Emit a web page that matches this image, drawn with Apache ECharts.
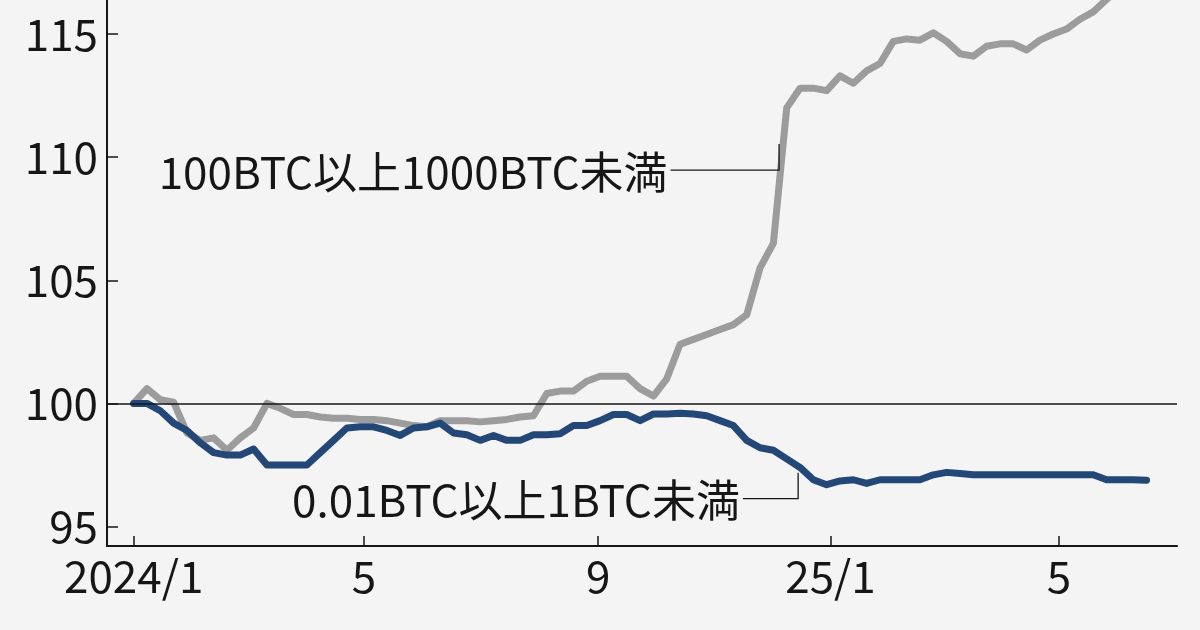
<!DOCTYPE html>
<html><head><meta charset="utf-8">
<script src="https://cdn.jsdelivr.net/npm/echarts@6/dist/echarts.min.js"></script>
<style>html,body{margin:0;padding:0;background:#f4f4f4;}#c{width:1200px;height:630px;}</style>
</head><body><div id="c"></div>
<script>
const dates = [
'2024-01-01','2024-01-08','2024-01-15','2024-01-22','2024-01-29','2024-02-05','2024-02-12','2024-02-19','2024-02-26','2024-03-04',
'2024-03-11','2024-03-18','2024-03-25','2024-04-01','2024-04-08','2024-04-15','2024-04-22','2024-04-29','2024-05-06','2024-05-13',
'2024-05-20','2024-05-27','2024-06-03','2024-06-10','2024-06-17','2024-06-24','2024-07-01','2024-07-08','2024-07-15','2024-07-22',
'2024-07-29','2024-08-05','2024-08-12','2024-08-19','2024-08-26','2024-09-02','2024-09-09','2024-09-16','2024-09-23','2024-09-30',
'2024-10-07','2024-10-14','2024-10-21','2024-10-28','2024-11-04','2024-11-11','2024-11-18','2024-11-25','2024-12-02','2024-12-09',
'2024-12-16','2024-12-23','2024-12-30','2025-01-06','2025-01-13','2025-01-20','2025-01-27','2025-02-03','2025-02-10','2025-02-17',
'2025-02-24','2025-03-03','2025-03-10','2025-03-17','2025-03-24','2025-03-31','2025-04-07','2025-04-14','2025-04-21','2025-04-28',
'2025-05-05','2025-05-12','2025-05-19','2025-05-26','2025-06-02','2025-06-09','2025-06-16'];

// 100BTC以上1000BTC未満
const largeHolders = [
100.0,100.6,100.15,100.05,98.8,98.5,98.6,98.1,98.6,99.0,
100.0,99.8,99.55,99.55,99.45,99.4,99.4,99.35,99.35,99.3,
99.2,99.1,99.05,99.3,99.3,99.3,99.25,99.3,99.35,99.45,
99.5,100.4,100.5,100.5,100.9,101.1,101.1,101.1,100.6,100.3,
101.0,102.4,102.6,102.8,103.0,103.2,103.6,105.5,106.5,112.0,
112.8,112.8,112.7,113.3,113.0,113.5,113.8,114.7,114.8,114.75,
115.05,114.7,114.2,114.1,114.5,114.6,114.6,114.35,114.75,115.0,
115.2,115.6,115.9,116.4,116.9,117.3,117.6];

// 0.01BTC以上1BTC未満
const smallHolders = [
100.0,100.0,99.7,99.2,98.9,98.4,98.0,97.9,97.9,98.15,
97.5,97.5,97.5,97.5,98.0,98.5,99.0,99.05,99.05,98.9,
98.7,99.0,99.05,99.2,98.8,98.73,98.5,98.7,98.5,98.5,
98.73,98.73,98.77,99.1,99.1,99.3,99.55,99.55,99.3,99.57,
99.57,99.6,99.57,99.5,99.3,99.1,98.5,98.2,98.1,97.75,
97.4,96.9,96.7,96.85,96.9,96.75,96.9,96.9,96.9,96.9,
97.1,97.2,97.15,97.1,97.1,97.1,97.1,97.1,97.1,97.1,
97.1,97.1,97.1,96.9,96.9,96.9,96.88];

const seriesNames = ['100BTC以上1000BTC未満', '0.01BTC以上1BTC未満'];
const xTickDates = ['2024-01-01','2024-05-01','2024-09-01','2025-01-01','2025-05-01'];
const xTickLabels = ['2024/1','5','9','25/1','5'];
const yTickValues = [95, 100, 105, 110, 115];
const baseValue = 100;
const xRange = ['2023-12-18', '2025-07-02'];
const yRange = [94.21, 116.38];
// annotation anchors in data terms: [date, value]
const largeLeader = {start: ['2024-10-09', 109.47], corner: ['2024-12-05', 109.47], end: ['2024-12-05', 110.53]};
const smallLeader = {start: ['2024-11-16', 96.13], corner: ['2024-12-15', 96.13], end: ['2024-12-15', 97.18]};

const DAY = 86400000;
const origin = Date.parse('2024-01-01');
const toDay = s => (Date.parse(s) - origin) / DAY;
const labelMap = {};
xTickDates.forEach((d, i) => { labelMap[toDay(d)] = xTickLabels[i]; });
const xTickVals = xTickDates.map(toDay);
const FONT = '"Noto Sans CJK JP", "Noto Sans", sans-serif';
const INK = '#161616';

const chart = echarts.init(document.getElementById('c'), null, {renderer: 'canvas'});
chart.setOption({
  backgroundColor: '#f4f4f4',
  animation: false,
  grid: {left: 107, right: 23, top: 0, bottom: 84, outerBoundsMode: 'none', containLabel: false},
  xAxis: {
    type: 'value', min: toDay(xRange[0]), max: toDay(xRange[1]),
    axisLine: {show: true, onZero: false, lineStyle: {color: INK, width: 2}},
    axisTick: {show: true, inside: true, length: 10, lineStyle: {color: INK, width: 1.5}, customValues: xTickVals},
    axisLabel: {customValues: xTickVals, formatter: v => labelMap[v] || '', fontFamily: FONT, fontSize: 44, color: INK, margin: 8},
    splitLine: {show: false}
  },
  yAxis: {
    type: 'value', min: yRange[0], max: yRange[1],
    axisLine: {show: true, onZero: false, lineStyle: {color: INK, width: 2}},
    axisTick: {show: true, inside: true, length: 11, lineStyle: {color: INK, width: 1.5}, customValues: yTickValues},
    axisLabel: {customValues: yTickValues, fontFamily: FONT, fontSize: 44, color: INK, margin: 9},
    splitLine: {show: false}
  },
  series: [
    {
      name: seriesNames[0], type: 'line', showSymbol: false, symbol: 'none',
      data: dates.map((d, i) => [toDay(d), largeHolders[i]]),
      lineStyle: {color: '#9c9c9c', width: 7, cap: 'round', join: 'round'},
      clip: true, z: 2
    },
    {
      name: seriesNames[1], type: 'line', showSymbol: false, symbol: 'none',
      data: dates.map((d, i) => [toDay(d), smallHolders[i]]),
      lineStyle: {color: '#234776', width: 7, cap: 'round', join: 'round'},
      clip: true, z: 3,
      markLine: {
        silent: true, symbol: ['none', 'none'], label: {show: false},
        lineStyle: {color: INK, width: 1.5, type: 'solid'},
        data: [{yAxis: baseValue}]
      }
    }
  ]
});

function px(p) { return chart.convertToPixel({gridIndex: 0}, [toDay(p[0]), p[1]]); }
function leader(l, text) {
  const s = px(l.start), c = px(l.corner), e = px(l.end);
  return [
    {type: 'polyline', shape: {points: [s, c, e]}, style: {stroke: INK, lineWidth: 1.3, fill: null}, z: 10},
    {type: 'text', x: s[0] - 3, y: s[1] + 2, style: {text: text, font: '44px ' + FONT, fill: INK, align: 'right', verticalAlign: 'middle'}, z: 10}
  ];
}
chart.setOption({graphic: [].concat(leader(largeLeader, seriesNames[0]), leader(smallLeader, seriesNames[1]))});
</script>
</body></html>
